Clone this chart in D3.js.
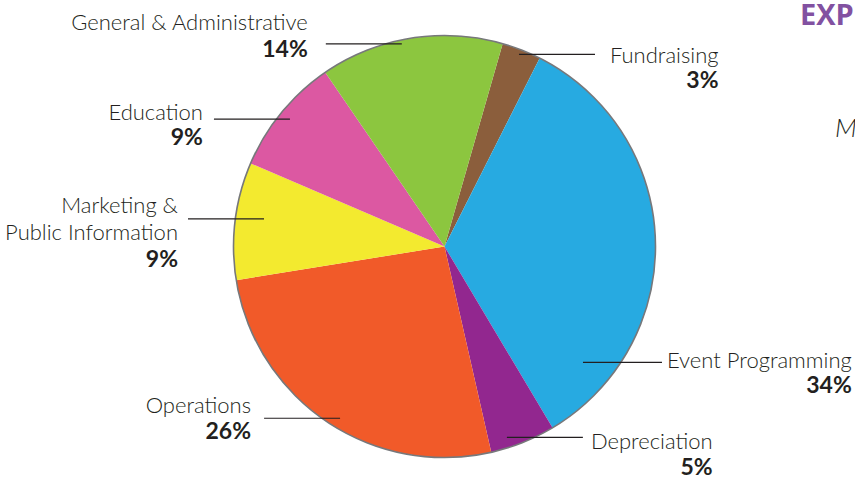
<!DOCTYPE html>
<html>
<head>
<meta charset="UTF-8">
<script src="https://cdn.jsdelivr.net/npm/d3@7"></script>
<style>
    body { margin: 0; background: #fff; }
    text { font-family: Lato, 'Open Sans', sans-serif; fill: #231f20; }
    .name { font-weight: 300; font-size: 22px; }
    .pct { font-weight: 700; font-size: 23px; }
</style>
</head>
<body>
<div id="chart"></div>
<script>
// expense categories, clockwise from the top
const categories = ["Fundraising", "Event Programming", "Depreciation", "Operations",
    "Marketing & Public Information", "Education", "General & Administrative"];
const shares = [3, 34, 5, 26, 9, 9, 14];
const labelLines = [["Fundraising"], ["Event Programming"], ["Depreciation"], ["Operations"],
    ["Marketing &", "Public Information"], ["Education"], ["General & Administrative"]];
const colors = ["#8b5e3c", "#27aae1", "#92278f", "#f15a29", "#f3ea2f", "#dc58a2", "#8cc63f"];

// where each leader line starts (angle in deg, radius) and how the text sits
const layout = [
    {a: 21.2, r: 206, side: 1, len: 76, gap: 15, dys: [9], pdy: 34},
    {a: 129.9, r: 180.5, side: 1, len: 79, gap: 5, dys: [6], pdy: 31},
    {a: 161.9, r: 200.8, side: 1, len: 76, gap: 8, dys: [12], pdy: 38},
    {a: 211.3, r: 201, side: -1, len: 76, gap: 13, dys: [-5.5], pdy: 21},
    {a: 278.7, r: 182.6, side: -1, len: 76, gap: 10, dys: [-6, 21], pdy: 48},
    {a: 309.5, r: 200.3, side: -1, len: 76, gap: 11, dys: [1], pdy: 26},
    {a: 348.1, r: 207, side: -1, len: 76, gap: 18, dys: [-13.5], pdy: 13}
];

const width = 855, height = 478;
const cx = 444.5, cy = 246.5, radius = 211;
const rad = Math.PI / 180;

const svg = d3.select("#chart").append("svg")
    .attr("width", width)
    .attr("height", height);

const pie = d3.pie().sort(null).value(d => d)
    .startAngle(16 * rad).endAngle(376 * rad);
const arc = d3.arc().innerRadius(0).outerRadius(radius);

const g = svg.append("g").attr("transform", `translate(${cx},${cy})`);

g.selectAll("path.slice")
    .data(pie(shares))
    .enter()
    .append("path")
    .attr("class", "slice")
    .attr("d", arc)
    .attr("fill", (d, i) => colors[i]);

g.append("circle")
    .attr("r", radius)
    .attr("fill", "none")
    .attr("stroke", "#77787b")
    .attr("stroke-width", 1.6);

// leader lines and labels
categories.forEach((c, i) => {
    const L = layout[i];
    const x0 = cx + L.r * Math.sin(L.a * rad);
    const y0 = cy - L.r * Math.cos(L.a * rad);
    const x1 = x0 + L.side * L.len;
    svg.append("line")
        .attr("x1", x0).attr("y1", y0)
        .attr("x2", x1).attr("y2", y0)
        .attr("stroke", "#231f20")
        .attr("stroke-width", 1.2);

    const tx = x1 + L.side * L.gap;
    const names = labelLines[i].map((t, j) => svg.append("text")
        .attr("class", "name")
        .attr("x", tx)
        .attr("y", y0 + L.dys[j])
        .attr("text-anchor", L.side > 0 ? "start" : "end")
        .text(t));
    // percent sits under the right edge of the name
    let right = tx;
    if (L.side > 0) {
        right = d3.max(names, n => tx + n.node().getComputedTextLength());
    }
    svg.append("text")
        .attr("class", "pct")
        .attr("x", right)
        .attr("y", y0 + L.pdy)
        .attr("text-anchor", "end")
        .text(shares[i] + "%");
});

// bits of the neighbouring panel that show at the edge
svg.append("text")
    .attr("x", 800).attr("y", 25)
    .style("font-family", "'Open Sans', sans-serif")
    .style("font-weight", 700)
    .style("font-size", "29px")
    .style("fill", "#8251a1")
    .text("EXPENSES");
svg.append("text")
    .attr("class", "name")
    .attr("x", 835).attr("y", 137)
    .style("font-style", "italic")
    .style("font-size", "26px")
    .text("M");
</script>
</body>
</html>
